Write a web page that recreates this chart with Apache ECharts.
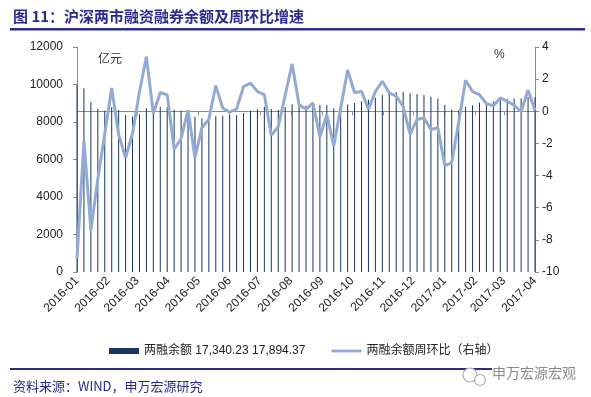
<!DOCTYPE html>
<html><head><meta charset="utf-8">
<script src="https://cdn.jsdelivr.net/npm/echarts@6/dist/echarts.min.js"></script>
<style>html,body{margin:0;padding:0;background:#fff}#c{width:591px;height:397px}</style>
</head><body><div id="c"></div>
<script>
// weekly observation dates (hidden category axis)
const weeks = [
'2016-01-01','2016-01-08','2016-01-15','2016-01-22','2016-01-29',
'2016-02-05','2016-02-12','2016-02-19','2016-02-26',
'2016-03-04','2016-03-11','2016-03-18','2016-03-25',
'2016-04-01','2016-04-08','2016-04-15','2016-04-22','2016-04-29',
'2016-05-06','2016-05-13','2016-05-20','2016-05-27',
'2016-06-03','2016-06-10','2016-06-17','2016-06-24',
'2016-07-01','2016-07-08','2016-07-15','2016-07-22','2016-07-29',
'2016-08-05','2016-08-12','2016-08-19','2016-08-26',
'2016-09-02','2016-09-09','2016-09-16','2016-09-23','2016-09-30',
'2016-10-07','2016-10-14','2016-10-21','2016-10-28',
'2016-11-04','2016-11-11','2016-11-18','2016-11-25',
'2016-12-02','2016-12-09','2016-12-16','2016-12-23','2016-12-30',
'2017-01-06','2017-01-13','2017-01-20','2017-01-27',
'2017-02-03','2017-02-10','2017-02-17','2017-02-24',
'2017-03-03','2017-03-10','2017-03-17','2017-03-24','2017-03-31','2017-04-05'
];
// 两融余额 (亿元)
const balance = [
9980,9800,9060,8690,8600,8800,8640,8380,8300,8420,
8730,8700,8820,8800,8660,8620,8640,8300,8200,8250,
8320,8330,8370,8360,8480,8600,8680,8810,8700,8640,
8800,8950,8990,8870,8990,8910,8900,8730,8780,8930,
9010,9100,9190,9300,9460,9600,9600,9620,9530,9490,
9440,9350,9260,8910,8650,8620,8810,8900,9040,9060,
9100,9250,9230,9260,9260,9330,9340
];
// 两融余额周环比 (%)
const wowChange = [
-9.15,-1.85,-7.4,-4.2,-1.4,1.45,-1.44,-2.9,-1.4,1.2,
3.4,-0.15,1.17,1.02,-2.36,-1.7,0.08,-2.88,-1.02,-0.5,
1.6,0.2,-0.06,0.15,1.54,1.75,1.23,1.03,-1.5,-0.96,
1.0,2.95,0.41,0.12,0.52,-1.6,-0.2,-2.16,0.2,2.57,
1.15,1.25,0.12,1.23,1.87,1.15,0.95,0.3,-1.44,-0.51,
-0.41,-1.13,-1.02,-3.38,-3.19,-0.7,1.93,1.23,1.03,0.47,
0.35,0.83,0.62,0.38,-0.03,1.32,0.05
];
const axisRange = ['2016-01-01','2017-04-01'];
const leftAxis = {min:0, max:12000, step:2000};
const rightAxis = {min:-10, max:4, step:2};
const barName = '两融余额 17,340.23 17,894.37';
const lineName = '两融余额周环比（右轴）';

const chart = echarts.init(document.getElementById('c'), null, {renderer:'canvas'});
const axisColor = '#8a8a8a';
const labelFont = {fontFamily:'Liberation Sans, Arial, sans-serif', fontSize:12, color:'#222'};
const cjk = '"Noto Sans CJK SC", sans-serif';
chart.setOption({
  animation:false,
  backgroundColor:'#fff',
  grid:{left:77, right:56, top:47, bottom:125, containLabel:false},
  legend:{
    left:104, top:340, itemWidth:30, itemHeight:6, itemGap:26, symbolKeepAspect:true,
    textStyle:{fontFamily:'Liberation Sans, "Noto Sans CJK SC", sans-serif', fontSize:12, color:'#222'},
    data:[{name:barName, icon:'rect'},
          {name:lineName, icon:'path://M0,0L32,0L32,3L0,3Z', itemStyle:{color:'#93ABD4'}}]
  },
  xAxis:[
    {type:'category', data:weeks, boundaryGap:false, show:false, gridIndex:0},
    {type:'time', gridIndex:0, position:'bottom',
     min:axisRange[0], max:axisRange[1], splitNumber:15,
     minInterval:28*86400000, maxInterval:31*86400000,
     axisLine:{show:true, lineStyle:{color:axisColor, width:1}},
     axisTick:{show:true, length:4, lineStyle:{color:axisColor}},
     splitLine:{show:false},
     axisLabel:Object.assign({rotate:45, margin:7, showMinLabel:true, showMaxLabel:true,
       formatter:function(v){return echarts.time.format(v,'{yyyy}-{MM}',false);}}, labelFont)}
  ],
  yAxis:[
    {type:'value', min:leftAxis.min, max:leftAxis.max, interval:leftAxis.step,
     axisLine:{show:true, lineStyle:{color:axisColor}},
     axisTick:{show:true, length:4, lineStyle:{color:axisColor}},
     splitLine:{show:false},
     axisLabel:Object.assign({margin:14, formatter:function(v){return String(v);}}, labelFont)},
    {type:'value', position:'right', min:rightAxis.min, max:rightAxis.max, interval:rightAxis.step,
     axisLine:{show:true, lineStyle:{color:axisColor}},
     axisTick:{show:true, length:4, lineStyle:{color:axisColor}},
     splitLine:{show:false},
     axisLabel:Object.assign({margin:7, formatter:function(v){return String(v);}}, labelFont)}
  ],
  series:[
    {type:'bar', name:barName, xAxisIndex:0, yAxisIndex:0, data:balance, barWidth:1,
     itemStyle:{color:'#17375E'}},
    {type:'line', name:lineName, xAxisIndex:0, yAxisIndex:1, data:wowChange,
     symbol:'none', lineStyle:{color:'#93ABD4', width:3}, itemStyle:{color:'#93ABD4'}, z:3}
  ],
  graphic:[
    {type:'text', left:13, top:9, style:{text:'图 11：沪深两市融资融券余额及周环比增速', font:'bold 15px '+cjk, fill:'#2A2A8C'}},
    {type:'rect', shape:{x:10, y:28, width:575, height:2.5}, style:{fill:'#2E2E86'}},
    {type:'text', left:98, top:52, style:{text:'亿元', font:'12px '+cjk, fill:'#333'}},
    {type:'text', left:494, top:49, style:{text:'%', font:'12px Liberation Sans, sans-serif', fill:'#333'}},
    {type:'rect', shape:{x:10, y:368, width:482, height:2}, style:{fill:'#2E2E86'}},
    {type:'text', left:13, top:380, style:{text:'资料来源：WIND，申万宏源研究', font:'13px '+cjk, fill:'#2A2A8C'}},
    {type:'circle', shape:{cx:470, cy:375, r:7}, style:{fill:'#fff', stroke:'#aaa', lineWidth:1.2}},
    {type:'circle', shape:{cx:480, cy:380, r:5.5}, style:{fill:'#fff', stroke:'#aaa', lineWidth:1.2}},
    {type:'text', left:492, top:366, style:{text:'申万宏源宏观', font:'14px '+cjk, fill:'#8a8a8a'}}
  ]
});
</script></body></html>
